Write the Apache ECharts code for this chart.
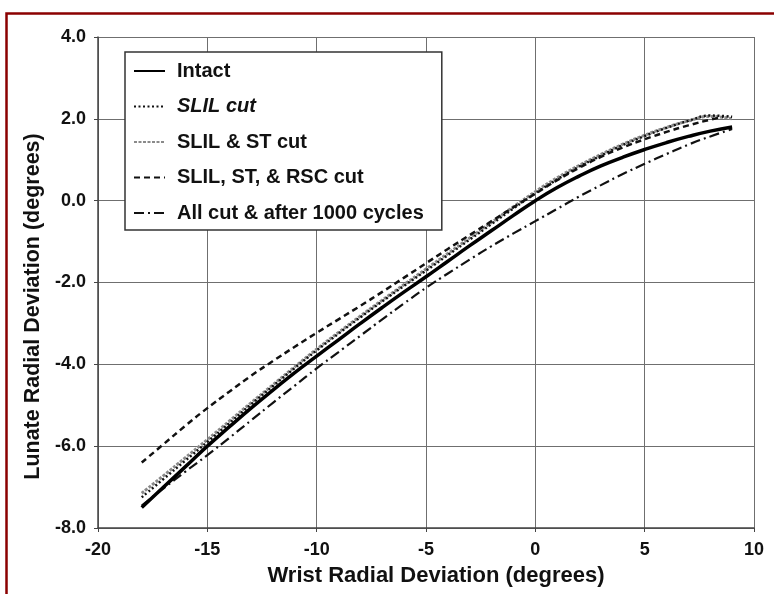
<!DOCTYPE html>
<html>
<head>
<meta charset="utf-8">
<script src="https://cdn.jsdelivr.net/npm/echarts@6/dist/echarts.min.js"></script>
<style>
  html, body { margin: 0; padding: 0; background: #fff; }
  #chart { width: 774px; height: 594px; }
</style>
</head>
<body>
<div id="chart"></div>
<script>
// Wrist radial deviation (degrees) sampled along each curve
const wristX = [-18,-17,-16,-15,-14,-13,-12,-11,-10,-9,-8,-7,-6,-5,-4,-3,-2,-1,0,1,2,3,4,5,6,7,8,9];
const wristXRsc = [-18,-17,-16,-15,-14,-13,-12,-11,-10,-9,-8,-7,-6,-5,-4,-3,-2,-1,0,1,2,3,4,5,6,7,8,8.6];

// Lunate radial deviation (degrees) for each condition
const intact   = [-7.5,-7.0,-6.5,-6.0,-5.53,-5.07,-4.63,-4.2,-3.8,-3.4,-3.0,-2.61,-2.23,-1.86,-1.48,-1.1,-0.73,-0.36,0.0,0.32,0.6,0.85,1.06,1.25,1.42,1.57,1.7,1.8];
const slilCut  = [-7.25,-6.8,-6.35,-5.9,-5.44,-4.98,-4.53,-4.09,-3.66,-3.25,-2.85,-2.46,-2.08,-1.71,-1.33,-0.95,-0.57,-0.19,0.18,0.52,0.83,1.1,1.36,1.58,1.78,1.95,2.08,2.05];
const slilSt   = [-7.15,-6.72,-6.28,-5.84,-5.39,-4.94,-4.5,-4.06,-3.63,-3.22,-2.82,-2.43,-2.05,-1.67,-1.29,-0.91,-0.53,-0.15,0.22,0.56,0.86,1.13,1.38,1.6,1.79,1.95,2.06,2.0];
const slilStRsc = [-6.4,-5.95,-5.5,-5.07,-4.67,-4.28,-3.92,-3.57,-3.23,-2.9,-2.57,-2.23,-1.88,-1.53,-1.18,-0.84,-0.5,-0.16,0.17,0.5,0.8,1.07,1.3,1.5,1.68,1.84,1.98,2.05];
const allCut1000 = [-7.45,-7.03,-6.62,-6.22,-5.8,-5.37,-4.94,-4.52,-4.1,-3.7,-3.3,-2.9,-2.51,-2.13,-1.78,-1.44,-1.11,-0.8,-0.5,-0.2,0.1,0.38,0.65,0.9,1.14,1.37,1.57,1.75];

const seriesNames = ['Intact', 'SLIL cut', 'SLIL & ST cut', 'SLIL, ST, & RSC cut', 'All cut & after 1000 cycles'];

// Axis ranges and ticks
const xMin = -20, xMax = 10, xStep = 5;
const yMin = -8, yMax = 4, yStep = 2;

const pairs = (xs, ys) => xs.map((x, i) => [x, ys[i]]);

const FONT = '"Liberation Sans", Arial, Helvetica, sans-serif';

const chart = echarts.init(document.getElementById('chart'), null, { renderer: 'canvas' });

function lineSeries(name, xs, ys, color, width, type, z) {
  return {
    name: name, type: 'line', smooth: true, symbol: 'none', z: z,
    data: pairs(xs, ys),
    itemStyle: { color: color },
    lineStyle: { color: color, width: width, type: type }
  };
}

chart.setOption({
  backgroundColor: '#ffffff',
  animation: false,
  grid: { left: 98, right: 20, top: 37, bottom: 66 },
  graphic: [{
    type: 'rect',
    left: 4, top: 11,
    shape: { width: 900, height: 700 },
    style: { fill: 'none', stroke: '#8b0000', lineWidth: 2.5 },
    silent: true
  }],
  legend: {
    data: seriesNames,
    orient: 'vertical',
    left: 125, top: 52,
    backgroundColor: '#ffffff',
    borderColor: '#333',
    borderWidth: 1.5,
    padding: [8, 18, 6, 8],
    itemWidth: 31,
    itemHeight: 14,
    itemGap: 13.5,
    itemStyle: { opacity: 0 },
    formatter: function (name) {
      return name === 'SLIL cut' ? '{it|' + name + '}' : name;
    },
    textStyle: {
      fontFamily: FONT, fontSize: 20, fontWeight: 'bold', color: '#111',
      lineHeight: 22, padding: [0, 0, 0, 7],
      rich: {
        it: { fontFamily: FONT, fontSize: 20, fontWeight: 'bold', fontStyle: 'italic', color: '#111', lineHeight: 22 }
      }
    }
  },
  xAxis: {
    type: 'value',
    min: xMin, max: xMax, interval: xStep,
    name: 'Wrist Radial Deviation (degrees)',
    nameLocation: 'middle',
    nameGap: 37,
    nameTextStyle: { fontFamily: FONT, fontSize: 22, fontWeight: 'bold', color: '#111', padding: [0, 0, 0, 20] },
    axisLine: { onZero: false, lineStyle: { color: '#444', width: 1.5 } },
    axisTick: { show: true, length: 4, lineStyle: { color: '#444' } },
    axisLabel: { fontFamily: FONT, fontSize: 18, fontWeight: 'bold', color: '#111', margin: 13 },
    splitLine: { show: true, lineStyle: { color: '#6f6f6f', width: 1 } }
  },
  yAxis: {
    type: 'value',
    min: yMin, max: yMax, interval: yStep,
    name: 'Lunate Radial Deviation (degrees)',
    nameLocation: 'middle',
    nameGap: 43,
    nameTextStyle: { fontFamily: FONT, fontSize: 21.5, fontWeight: 'bold', color: '#111', padding: [0, 48, 0, 0] },
    axisLine: { onZero: false, lineStyle: { color: '#444', width: 1.5 } },
    axisTick: { show: true, length: 4, lineStyle: { color: '#444' } },
    axisLabel: {
      fontFamily: FONT, fontSize: 18, fontWeight: 'bold', color: '#111', margin: 12,
      formatter: v => v.toFixed(1)
    },
    splitLine: { show: true, lineStyle: { color: '#6f6f6f', width: 1 } }
  },
  series: [
    lineSeries(seriesNames[0], wristX, intact, '#000', 3.5, 'solid', 5),
    lineSeries(seriesNames[1], wristX, slilCut, '#111', 2.5, [2, 2.5], 3),
    lineSeries(seriesNames[2], wristX, slilSt, '#8a8a8a', 3, [3, 1.5], 2),
    lineSeries(seriesNames[3], wristXRsc, slilStRsc, '#111', 2.5, [6, 4], 4),
    lineSeries(seriesNames[4], wristX, allCut1000, '#111', 2.2, [10, 4, 2, 4], 4)
  ]
});
</script>
</body>
</html>
